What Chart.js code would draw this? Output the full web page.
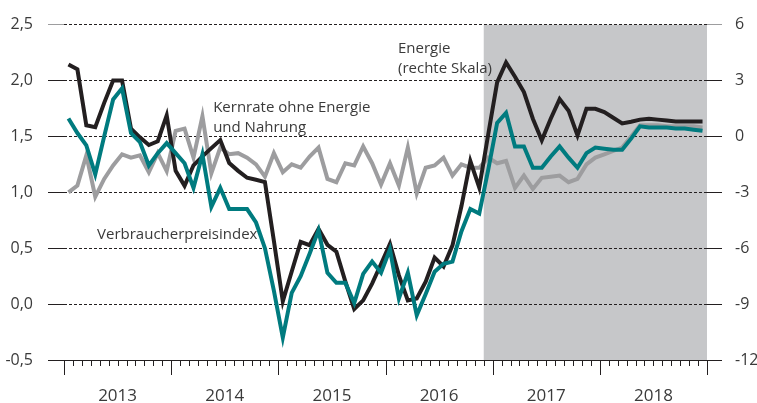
<!DOCTYPE html>
<html lang="de">
<head>
    <meta charset="UTF-8">
    <title>Energie, Kernrate und Verbraucherpreisindex</title>
    <script src="https://cdn.jsdelivr.net/npm/chart.js"></script>
    <style>
        body { margin: 0; background: #fff; }
        canvas { display: block; }
    </style>
</head>
<body>
    <canvas id="chart" width="757" height="403"></canvas>

    <script>
    // Jahre (Beschriftung unter der x-Achse), Monatswerte Jan 2013 - Dez 2018
    const years = ['2013', '2014', '2015', '2016', '2017', '2018'];

    // Verbraucherpreisindex (linke Skala)
    const vpi = [
        1.66, 1.53, 1.42, 1.16, 1.50, 1.83, 1.93, 1.53, 1.45, 1.24, 1.35, 1.44,
        1.35, 1.26, 1.04, 1.34, 0.87, 1.04, 0.85, 0.85, 0.85, 0.73, 0.50, 0.12,
        -0.30, 0.10, 0.25, 0.45, 0.66, 0.28, 0.19, 0.19, 0.01, 0.27, 0.38, 0.28,
        0.49, 0.05, 0.28, -0.10, 0.09, 0.29, 0.36, 0.38, 0.65, 0.85, 0.81, 1.20,
        1.62, 1.71, 1.41, 1.41, 1.22, 1.22, 1.32, 1.41, 1.31, 1.22, 1.35, 1.40,
        1.39, 1.38, 1.38, 1.48, 1.59, 1.58, 1.58, 1.58, 1.57, 1.57, 1.56, 1.55
    ];

    // Kernrate ohne Energie und Nahrung (linke Skala)
    const kernrate = [
        1.00, 1.06, 1.33, 0.96, 1.12, 1.24, 1.34, 1.31, 1.33, 1.18, 1.35, 1.19,
        1.55, 1.57, 1.31, 1.68, 1.17, 1.40, 1.34, 1.35, 1.31, 1.25, 1.14, 1.35,
        1.18, 1.25, 1.22, 1.32, 1.40, 1.12, 1.09, 1.26, 1.24, 1.41, 1.26, 1.07,
        1.26, 1.06, 1.40, 0.99, 1.22, 1.24, 1.31, 1.15, 1.25, 1.22, 1.22, 1.31,
        1.26, 1.28, 1.04, 1.15, 1.03, 1.13, 1.14, 1.15, 1.09, 1.12, 1.25, 1.31,
        1.34, 1.37, 1.40, 1.50, 1.60, 1.60, 1.60, 1.59, 1.59, 1.59, 1.59, 1.58
    ];

    // Energie (rechte Skala)
    const energie = [
        3.86, 3.60, 0.60, 0.50, 1.80, 3.00, 3.00, 0.42, -0.05, -0.46, -0.26, 1.13,
        -1.85, -2.65, -1.55, -1.07, -0.63, -0.20, -1.43, -1.85, -2.22, -2.33, -2.45, -5.60,
        -8.85, -7.25, -5.66, -5.84, -4.96, -5.82, -6.19, -7.78, -9.27, -8.80, -7.90, -6.85,
        -5.77, -7.46, -8.80, -8.70, -7.80, -6.50, -6.98, -5.85, -3.75, -1.32, -2.75, 0.10,
        2.90, 3.97, 3.20, 2.38, 0.95, -0.21, 0.95, 2.00, 1.38, 0.05, 1.48, 1.48,
        1.30, 1.00, 0.70, 0.79, 0.90, 0.95, 0.90, 0.85, 0.80, 0.80, 0.80, 0.80
    ];

    // Prognosezeitraum ab Monat 47 (Dez 2016)
    const forecastStart = 47;

    const toPoints = arr => arr.map((v, i) => ({ x: i + 0.5, y: v }));
    const fmtLeft = v => v.toFixed(1).replace('.', ',');

    const gridColor = '#231f20';
    const textColor = '#3a3a3a';
    const font = "'Open Sans', 'DejaVu Sans', sans-serif";

    // Grauer Hintergrund fuer Prognose, Monatsstriche und Beschriftungen
    const deko = {
        id: 'deko',
        beforeDraw(chart) {
            const { ctx, chartArea, scales } = chart;
            const x0 = scales.x.getPixelForValue(forecastStart);
            ctx.save();
            ctx.fillStyle = '#c6c7c9';
            ctx.fillRect(x0, chartArea.top, chartArea.right - x0, chartArea.bottom - chartArea.top);
            ctx.restore();
        },
        afterDraw(chart) {
            const { ctx, chartArea, scales } = chart;
            ctx.save();
            ctx.strokeStyle = gridColor;
            ctx.lineWidth = 1;
            for (let m = 0; m <= years.length * 12; m++) {
                const x = Math.round(scales.x.getPixelForValue(m)) + 0.5;
                const len = m % 12 === 0 ? 15 : 6;
                ctx.beginPath();
                ctx.moveTo(x, chartArea.bottom);
                ctx.lineTo(x, chartArea.bottom + len);
                ctx.stroke();
            }
            ctx.fillStyle = textColor;
            ctx.font = '15px ' + font;
            ctx.textAlign = 'left';
            ctx.textBaseline = 'alphabetic';
            const labels = [
                { lines: ['Kernrate ohne Energie', 'und Nahrung'], m: 16.7, v: 1.72 },
                { lines: ['Energie', '(rechte Skala)'], m: 37.4, v: 2.25 },
                { lines: ['Verbraucherpreisindex'], m: 3.7, v: 0.585 }
            ];
            labels.forEach(l => {
                const x = scales.x.getPixelForValue(l.m);
                const y = scales.y.getPixelForValue(l.v);
                l.lines.forEach((t, k) => ctx.fillText(t, x, y + k * 20));
            });
            ctx.restore();
        }
    };

    new Chart(document.getElementById('chart'), {
        type: 'line',
        data: {
            datasets: [
                {
                    label: 'Verbraucherpreisindex',
                    data: toPoints(vpi),
                    yAxisID: 'y',
                    borderColor: '#007b7f',
                    borderWidth: 4
                },
                {
                    label: 'Energie (rechte Skala)',
                    data: toPoints(energie),
                    yAxisID: 'y1',
                    borderColor: '#231f20',
                    borderWidth: 4
                },
                {
                    label: 'Kernrate ohne Energie und Nahrung',
                    data: toPoints(kernrate),
                    yAxisID: 'y',
                    borderColor: '#9d9d9f',
                    borderWidth: 4
                }
            ]
        },
        options: {
            responsive: false,
            animation: false,
            devicePixelRatio: 1,
            layout: { padding: { top: 20, left: 0, right: 0, bottom: 0 } },
            elements: {
                point: { radius: 0 },
                line: { tension: 0, borderJoinStyle: 'miter', borderCapStyle: 'butt' }
            },
            plugins: {
                legend: { display: false },
                tooltip: { enabled: false }
            },
            scales: {
                x: {
                    type: 'linear',
                    min: 0,
                    max: years.length * 12,
                    afterFit: s => { s.height = 43; },
                    grid: { display: false },
                    border: { display: true, color: gridColor, width: 1 },
                    ticks: {
                        stepSize: 6,
                        autoSkip: false,
                        maxRotation: 0,
                        padding: 18,
                        color: textColor,
                        font: { family: font, size: 17 },
                        callback: v => (v % 12 === 6 ? years[(v - 6) / 12] : '')
                    }
                },
                y: {
                    position: 'left',
                    min: -0.5,
                    max: 2.5,
                    afterFit: s => { s.width = 64; },
                    border: { display: false, dash: [3, 2] },
                    grid: {
                        color: gridColor,
                        lineWidth: 1,
                        tickLength: 16,
                        tickColor: c => (c.index === 6 ? '#9d9d9f' : gridColor)
                    },
                    ticks: {
                        stepSize: 0.5,
                        padding: 15,
                        color: textColor,
                        font: { family: font, size: 16 },
                        callback: v => fmtLeft(v)
                    }
                },
                y1: {
                    position: 'right',
                    min: -12,
                    max: 6,
                    afterFit: s => { s.width = 50; },
                    border: { display: false },
                    grid: {
                        drawOnChartArea: false,
                        color: gridColor,
                        tickLength: 15,
                        tickColor: c => (c.index === 6 ? '#9d9d9f' : gridColor)
                    },
                    ticks: {
                        stepSize: 3,
                        padding: 13,
                        color: textColor,
                        font: { family: font, size: 16 },
                        callback: v => String(v)
                    }
                }
            }
        },
        plugins: [deko]
    });
    </script>
</body>
</html>
